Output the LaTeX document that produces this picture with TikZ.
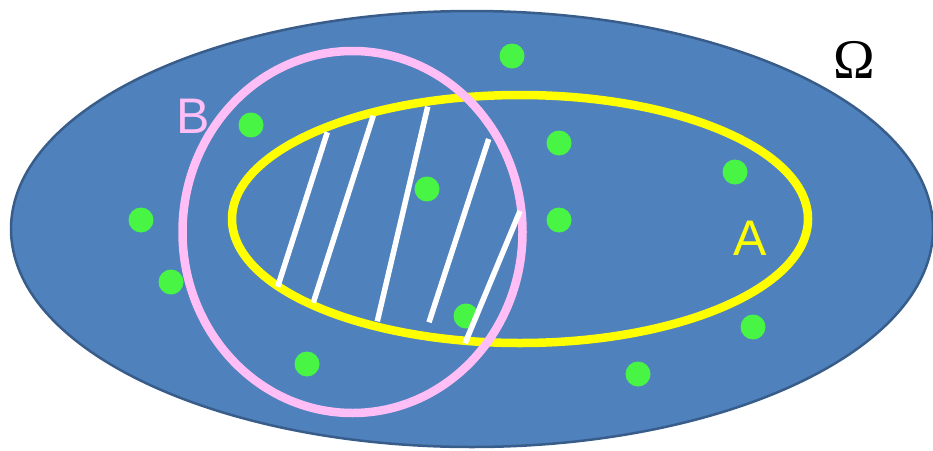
\documentclass[tikz,border=0pt]{standalone}
\usepackage{fontspec}
\setmainfont{Liberation Sans}
\newfontfamily\omegafont{Liberation Serif}
\definecolor{omegablue}{RGB}{79,129,189}
\definecolor{omegaedge}{RGB}{56,93,138}
\definecolor{setA}{RGB}{255,255,0}
\definecolor{setB}{RGB}{255,190,245}
\definecolor{dotgreen}{RGB}{72,245,68}
\tikzset{
  pt/.style={fill=dotgreen, draw=none},
  hatch/.style={draw=white, line width=5.5pt},
  lab/.style={inner sep=0pt, font=\fontsize{50}{50}\selectfont}
}
\begin{document}
\begin{tikzpicture}[x=1pt,y=-1pt]
\useasboundingbox (0,0) rectangle (933,450);
% sample space
\fill[omegablue, draw=omegaedge, line width=2.5pt] (472,229) ellipse [x radius=461, y radius=218];
% points
\foreach \p in {(512,56),(251,125),(559,143),(735,172),(141,220),(427,189),(559,220),(171,282),(466,316),(753,327),(307,364),(638,374)}
  \fill[pt] \p circle (12.5);
% set A
\draw[setA, line width=8.5pt] (520,219) ellipse [x radius=288, y radius=124];
% set B
\draw[setB, line width=8.5pt] (352.5,232) ellipse [x radius=170, y radius=181];
% hatching of intersection
\draw[hatch] (277.7,286.7) -- (327.3,132.3);
\draw[hatch] (313.3,302.7) -- (373.3,115.7);
\draw[hatch] (377.3,321.3) -- (427.7,106.7);
\draw[hatch] (429,322.3) -- (488.7,139);
\draw[hatch] (465,343.3) -- (520,211);
% labels
\node[lab, text=setB] (labB) at (193,116) {B};
\node[lab, text=setA] (labA) at (750,238) {A};
\node[inner sep=0pt, text=black, font=\omegafont\fontsize{56}{56}\selectfont] (labO) at (854,60) {Ω};
\end{tikzpicture}
\end{document}
